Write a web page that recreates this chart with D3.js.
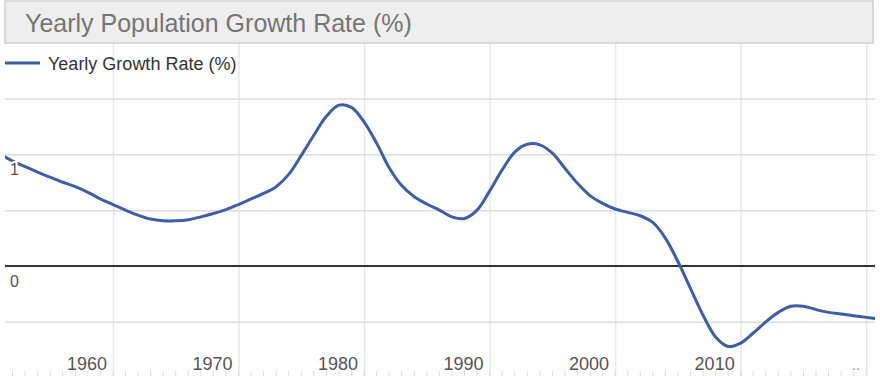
<!DOCTYPE html>
<html>
<head>
<meta charset="utf-8">
<script src="https://cdn.jsdelivr.net/npm/d3@7"></script>
<style>
    body { margin: 0; background: #fff; }
    svg { display: block; font-family: Arial, "Liberation Sans", sans-serif; }
</style>
</head>
<body>
<div id="chart"></div>
<script>
// data
const years = [
    1951, 1952, 1953, 1954, 1955, 1956, 1957, 1958, 1959, 1960,
    1961, 1962, 1963, 1964, 1965, 1966, 1967, 1968, 1969, 1970,
    1971, 1972, 1973, 1974, 1975, 1976, 1977, 1978, 1979, 1980,
    1981, 1982, 1983, 1984, 1985, 1986, 1987, 1988, 1989, 1990,
    1991, 1992, 1993, 1994, 1995, 1996, 1997, 1998, 1999, 2000,
    2001, 2002, 2003, 2004, 2005, 2006, 2007, 2008, 2009, 2010,
    2011, 2012, 2013, 2014, 2015, 2016, 2017, 2018, 2019, 2020,
    2021
];
const growthRate = [
    1.00, 0.94, 0.89, 0.84, 0.795, 0.75, 0.71, 0.66, 0.60, 0.55,
    0.50, 0.455, 0.42, 0.405, 0.405, 0.415, 0.44, 0.47, 0.505, 0.55,
    0.60, 0.65, 0.71, 0.82, 0.99, 1.17, 1.34, 1.44, 1.42, 1.29,
    1.10, 0.88, 0.72, 0.62, 0.555, 0.50, 0.44, 0.425, 0.50, 0.67,
    0.86, 1.02, 1.09, 1.085, 1.01, 0.875, 0.74, 0.63, 0.56, 0.51,
    0.48, 0.45, 0.39, 0.25, 0.04, -0.20, -0.44, -0.635, -0.72, -0.69,
    -0.60, -0.50, -0.415, -0.36, -0.36, -0.39, -0.415, -0.43, -0.445, -0.46,
    -0.475
];
const xTicks = [1960, 1970, 1980, 1990, 2000, 2010, 2020];
const yGrid = [-0.5, 0.5, 1, 1.5];
const yLabels = [0, 1];

const width = 880,
    height = 376;

const plotLeft = 5, plotRight = 875, plotTop = 43, plotBottom = 376;

const svg = d3.select("#chart")
    .append("svg")
    .attr("width", width)
    .attr("height", height);

const x = d3.scaleLinear()
    .domain([1951.4, 2020.7])
    .range([plotLeft, plotRight]);

const y = d3.scaleLinear()
    .domain([-1, 2])
    .range([377.7, 42.6]);

// vertical gridlines
svg.append("g")
    .attr("transform", `translate(0, ${plotBottom})`)
    .call(d3.axisBottom(x).tickValues(xTicks).tickSize(-(plotBottom - plotTop)).tickFormat(""))
    .call(g => g.select(".domain").remove())
    .call(g => g.selectAll("line").attr("stroke", "#e8e8e8").attr("stroke-width", 1.5));

// minor year ticks along the bottom
svg.append("g")
    .selectAll("line")
    .data(years.filter(d => x(d) > plotLeft && x(d) < plotRight))
    .join("line")
    .attr("x1", d => x(d))
    .attr("x2", d => x(d))
    .attr("y1", 371)
    .attr("y2", 376)
    .attr("stroke", "#dcdcdc")
    .attr("stroke-width", 1);

// horizontal gridlines
svg.append("g")
    .attr("transform", `translate(${plotLeft}, 0)`)
    .call(d3.axisLeft(y).tickValues(yGrid).tickSize(-(plotRight - plotLeft)).tickFormat(""))
    .call(g => g.select(".domain").remove())
    .call(g => g.selectAll("line").attr("stroke", "#dcdcdc").attr("stroke-width", 1.5));

// zero baseline
svg.append("line")
    .attr("x1", plotLeft)
    .attr("x2", plotRight)
    .attr("y1", y(0))
    .attr("y2", y(0))
    .attr("stroke", "#333")
    .attr("stroke-width", 2);

svg.append("clipPath")
    .attr("id", "plot-clip")
    .append("rect")
    .attr("x", plotLeft)
    .attr("y", plotTop)
    .attr("width", plotRight - plotLeft)
    .attr("height", plotBottom - plotTop);

const line = d3.line()
    .x((d, i) => x(years[i]))
    .y(d => y(d))
    .curve(d3.curveCatmullRom.alpha(0.5));

svg.append("path")
    .datum(growthRate)
    .attr("clip-path", "url(#plot-clip)")
    .attr("fill", "none")
    .attr("stroke", "#3d5ea8")
    .attr("stroke-width", 3)
    .attr("stroke-linejoin", "round")
    .attr("d", line);

// y labels sit under their gridline, with a white halo
svg.append("g")
    .selectAll("text")
    .data(yLabels)
    .join("text")
    .attr("x", 10)
    .attr("y", d => y(d) + 21)
    .attr("fill", "#555")
    .attr("stroke", "#fff")
    .attr("stroke-width", 4)
    .attr("paint-order", "stroke")
    .style("font-size", "16px")
    .text(d => d);

// x labels, right aligned to the gridline
svg.append("g")
    .selectAll("text")
    .data(xTicks.slice(0, -1))
    .join("text")
    .attr("x", d => x(d) - 6)
    .attr("y", 370)
    .attr("text-anchor", "end")
    .attr("fill", "#555")
    .style("font-size", "18px")
    .text(d => d);

svg.append("text")
    .attr("x", 852)
    .attr("y", 370)
    .attr("fill", "#888")
    .style("font-size", "14px")
    .text("..");

// title box
svg.append("rect")
    .attr("x", 5)
    .attr("y", 1)
    .attr("width", 868)
    .attr("height", 42)
    .attr("fill", "#eeeeee")
    .attr("stroke", "#cfcfcf")
    .attr("stroke-width", 1.5);

svg.append("text")
    .attr("x", 25)
    .attr("y", 32)
    .attr("fill", "#757575")
    .style("font-size", "25px")
    .text("Yearly Population Growth Rate (%)");

// legend
svg.append("line")
    .attr("x1", 5)
    .attr("x2", 40)
    .attr("y1", 63)
    .attr("y2", 63)
    .attr("stroke", "#3d5ea8")
    .attr("stroke-width", 3);

svg.append("text")
    .attr("x", 48)
    .attr("y", 70)
    .attr("fill", "#333")
    .style("font-size", "18px")
    .text("Yearly Growth Rate (%)");
</script>
</body>
</html>
